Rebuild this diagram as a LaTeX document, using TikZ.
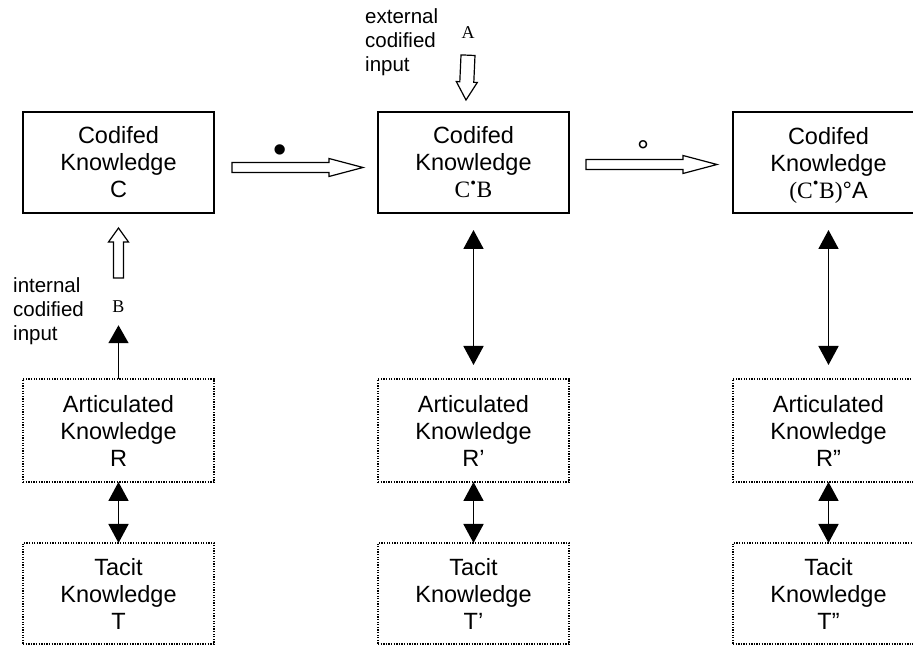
\documentclass[tikz,border=0pt]{standalone}
\usepackage{fontspec}
\setmainfont{Liberation Sans}
\newfontfamily\timesfont{Liberation Serif}
\usetikzlibrary{positioning,calc,arrows.meta}

\tikzset{
  codbox/.style={draw, line width=1.4pt, minimum width=191pt, minimum height=101pt,
    align=center, inner sep=0pt, outer sep=0pt, font=\fontsize{23.5}{27}\selectfont},
  tacbox/.style={codbox, dash pattern=on 1.3pt off 1.3pt},
  biarrow/.style={{Triangle[width=20pt,length=19pt]}-{Triangle[width=20pt,length=19pt]}, line width=1.8pt},
  uparrow/.style={-{Triangle[width=20pt,length=18pt]}, line width=1.8pt},
  hollow/.style={draw, line width=1.2pt, fill=white},
  inputlabel/.style={align=left, inner sep=0pt, font=\fontsize{20.5}{24}\selectfont},
  letter/.style={inner sep=0pt, font=\timesfont\fontsize{18}{20}\selectfont}
}

% tail, tip, half shaft, half head, head length
\newcommand{\hollowarrow}[5]{%
  \path ($(#2)!#5!(#1)$) coordinate (hb);
  \draw[hollow] ($(#1)!#3!90:(#2)$) -- ($(hb)!#3!90:(#2)$) -- ($(hb)!#4!90:(#2)$) -- (#2)
    -- ($(hb)!#4!-90:(#2)$) -- ($(hb)!#3!-90:(#2)$) -- ($(#1)!#3!-90:(#2)$) -- cycle;
}
\newcommand{\nodepth}[1]{\raisebox{0pt}[\height][0pt]{#1}}

\begin{document}
\begin{tikzpicture}[x=1pt,y=1pt]
  \useasboundingbox (0,0) rectangle (913,645);
  % codified knowledge
  \node [codbox] (cod1) at (118.5,482.5) {Codifed\\Knowledge\\C};
  \node [codbox, right=164pt of cod1] (cod2) {Codifed\\Knowledge\\{\timesfont C\textsuperscript{\textbullet}B}};
  \node [codbox, right=164pt of cod2] (cod3) {Codifed\\Knowledge\\\nodepth{{\timesfont (C\textsuperscript{\textbullet}B)}°A}};
  % articulated and tacit knowledge
  \node [tacbox, minimum height=103pt, below=166pt of cod1] (art1) {Articulated\\Knowledge\\R};
  \node [tacbox, minimum height=103pt, below=166pt of cod2] (art2) {Articulated\\Knowledge\\R'};
  \node [tacbox, minimum height=103pt, below=166pt of cod3] (art3) {Articulated\\Knowledge\\R''};
  \node [tacbox, below=61pt of art1] (tac1) {Tacit\\Knowledge\\T};
  \node [tacbox, below=61pt of art2] (tac2) {Tacit\\Knowledge\\T'};
  \node [tacbox, below=61pt of art3] (tac3) {Tacit\\Knowledge\\T''};
  % inputs
  \node [letter, anchor=base] (inB) at (118.5,332) {B};
  \node [letter, anchor=base] (inA) at (468,606) {A};
  \node [inputlabel, anchor=north west] (intlab) at (13,368) {internal\\codified\\input};
  \node [inputlabel, anchor=north west] (extlab) at (365,637) {external\\codified\\input};
  % operators
  \node [inner sep=0pt, font=\fontsize{38}{38}\selectfont] (opdot) at (280,491) {\textbullet};
  \node [inner sep=0pt, font=\fontsize{30}{30}\selectfont] (opcirc) at (643,494) {°};

  \coordinate (op1s) at ($(cod1.east)+(18pt,-5pt)$);
  \coordinate (op1e) at ($(cod2.west)+(-15pt,-5pt)$);
  \coordinate (op2s) at ($(cod2.east)+(17pt,-2pt)$);
  \coordinate (op2e) at ($(cod3.west)+(-16pt,-2pt)$);
  \coordinate (bs) at ([yshift=23pt]inB.north);
  \coordinate (be) at ([yshift=-15pt]cod1.south);
  \coordinate (as) at ([yshift=-16pt]inA.south);
  \coordinate (ae) at ([xshift=-7.5pt,yshift=12pt]cod2.north);

  \hollowarrow{op1s}{op1e}{5pt}{9pt}{34pt}
  \hollowarrow{op2s}{op2e}{5pt}{9pt}{34pt}
  \hollowarrow{bs}{be}{5pt}{10pt}{14pt}
  \hollowarrow{as}{ae}{7pt}{10.5pt}{18pt}

  \draw [uparrow] (art1) -- ([yshift=-12pt]inB.south);
  \draw [biarrow, shorten <=17pt, shorten >=14pt] (cod2) -- (art2);
  \draw [biarrow, shorten <=17pt, shorten >=14pt] (cod3) -- (art3);
  \draw [biarrow] (art1) -- (tac1);
  \draw [biarrow] (art2) -- (tac2);
  \draw [biarrow] (art3) -- (tac3);
\end{tikzpicture}
\end{document}
